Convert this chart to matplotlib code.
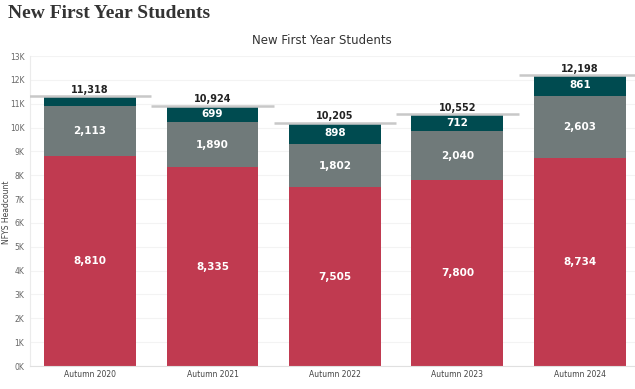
import numpy as np
import matplotlib.pyplot as plt

# Data
terms = ["Autumn 2020", "Autumn 2021", "Autumn 2022", "Autumn 2023", "Autumn 2024"]
seg_bottom = [8810, 8335, 7505, 7800, 8734]
seg_middle = [2113, 1890, 1802, 2040, 2603]
seg_top = [395, 699, 898, 712, 861]
totals = [11318, 10924, 10205, 10552, 12198]

red = "#C03A50"
grey = "#707A7A"
teal = "#004B50"

fig = plt.figure(figsize=(6.35, 3.89), dpi=100)
ax = fig.add_axes([30 / 635, 23 / 389, 605 / 635, 310 / 389])

x = np.arange(len(terms))
w = 0.75
b1 = np.array(seg_bottom)
b2 = b1 + np.array(seg_middle)

ax.bar(x, seg_bottom, w, color=red, zorder=2)
ax.bar(x, seg_middle, w, bottom=b1, color=grey, zorder=2)
ax.bar(x, seg_top, w, bottom=b2, color=teal, zorder=2)

# total reference lines
for i, t in enumerate(totals):
    ax.plot([i - 0.5, i + 0.5], [t, t], color="#C8C8C8", lw=1.8, zorder=3,
            solid_capstyle="butt")
    ax.text(i, t + 60, f"{t:,}", ha="center", va="bottom", fontsize=7,
            fontweight="bold", color="#222222", zorder=4)

# segment labels
for i in range(len(terms)):
    ax.text(i, seg_bottom[i] / 2, f"{seg_bottom[i]:,}", ha="center", va="center",
            fontsize=7.5, fontweight="bold", color="white", zorder=4)
    ax.text(i, b1[i] + seg_middle[i] / 2, f"{seg_middle[i]:,}", ha="center",
            va="center", fontsize=7.5, fontweight="bold", color="white", zorder=4)
    if seg_top[i] > 500:
        ax.text(i, b2[i] + seg_top[i] / 2, f"{seg_top[i]:,}", ha="center",
                va="center", fontsize=7.5, fontweight="bold", color="white", zorder=4)

ax.set_xlim(-0.49, 4.45)
ax.set_ylim(0, 13000)
yt = np.arange(0, 13001, 1000)
ax.set_yticks(yt)
ax.set_yticklabels([f"{v // 1000}K" for v in yt], fontsize=5.5, color="#666666")
ax.set_xticks(x)
ax.set_xticklabels(terms, fontsize=5.5, color="#444444")
ax.tick_params(axis="both", length=0, pad=3)
ax.tick_params(axis="y", pad=4)
ax.grid(axis="y", color="#F3F3F3", lw=0.8, zorder=0)
for s in ["top", "right"]:
    ax.spines[s].set_visible(False)
ax.spines["left"].set_color("#EBEBEB")
ax.spines["bottom"].set_color("#E0E0E0")

fig.text(7 / 635, 1 - 212 / 389, "NFYS Headcount", fontsize=5.5, color="#444444",
         rotation=90, ha="center", va="center")
fig.text(8 / 635, 1 - 13 / 389, "New First Year Students", fontsize=14,
         fontweight="bold", family="Liberation Serif", color="#333333",
         ha="left", va="center")
fig.text(322 / 635, 1 - 40 / 389, "New First Year Students", fontsize=8.5,
         color="#333333", ha="center", va="center")

fig.savefig("out.png", dpi=100)
